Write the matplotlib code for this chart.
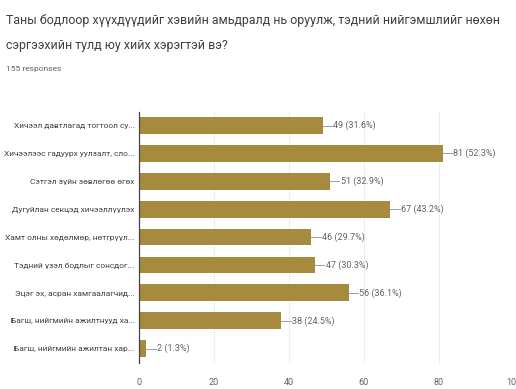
import matplotlib.pyplot as plt

title_lines = [
    "Таны бодлоор хүүхдүүдийг хэвийн амьдралд нь оруулж, тэдний нийгэмшлийг нөхөн",
    "сэргээхийн тулд юу хийх хэрэгтэй вэ?",
]
n_responses = "155 responses"

categories = [
    "Хичээл давтлагад тогтоол су...",
    "Хичээлээс гадуурх уулзалт, сло...",
    "Сэтгэл зүйн зөвлөгөө өгөх",
    "Дугуйлан секцэд хичээллүүлэх",
    "Хамт олны хөдөлмөр, нөтгрүүл...",
    "Тэдний үзэл бодлыг сонсдог...",
    "Эцэг эх, асран хамгаалагчид...",
    "Багш, нийгмийн ажилтнууд ха...",
    "Багш, нийгмийн ажилтан хар...",
]
counts = [49, 81, 51, 67, 46, 47, 56, 38, 2]
percents = [31.6, 52.3, 32.9, 43.2, 29.7, 30.3, 36.1, 24.5, 1.3]
xticks = [0, 20, 40, 60, 80, 100]

plt.rcParams['font.family'] = ['Roboto', 'DejaVu Sans']
bar_color = '#A68A3E'
text_gray = '#5f6368'

fig = plt.figure(figsize=(5.16, 3.89), dpi=100)
fig.text(0.012, 0.947, title_lines[0], fontsize=8.9, color='#3c4043', va='center')
fig.text(0.012, 0.884, title_lines[1], fontsize=8.9, color='#3c4043', va='center')
fig.text(0.012, 0.822, n_responses, fontsize=6, color=text_gray, va='center')

ax = fig.add_axes([0.269, 0.068, 0.727, 0.645])
y = list(range(len(categories)))
ax.barh(y, counts, height=0.6, color=bar_color, zorder=3)
ax.set_ylim(len(categories) - 0.5, -0.5)
ax.set_xlim(0, 100)
ax.set_xticks(xticks)
ax.set_xticklabels([str(t) for t in xticks], fontsize=6.5, color=text_gray)
ax.set_yticks(y)
ax.set_yticklabels(categories, fontsize=6.0, color='#3c4043')
ax.tick_params(axis='both', length=0, pad=3)
ax.tick_params(axis='x', pad=11)
ax.grid(axis='x', color='#ededed', linewidth=0.8, zorder=0)
for side in ['top', 'right', 'bottom']:
    ax.spines[side].set_visible(False)
ax.spines['left'].set_color('#444444')
ax.spines['left'].set_linewidth(0.9)
ax.spines['left'].set_zorder(4)

for yi, c, p in zip(y, counts, percents):
    ax.plot([c, c + 2.5], [yi, yi], color='#9aa0a6', linewidth=0.7, zorder=3)
    ax.text(c + 2.8, yi, f"{c} ({p}%)", fontsize=6.5, color=text_gray, va='center')

fig.savefig('out.png', dpi=100)
